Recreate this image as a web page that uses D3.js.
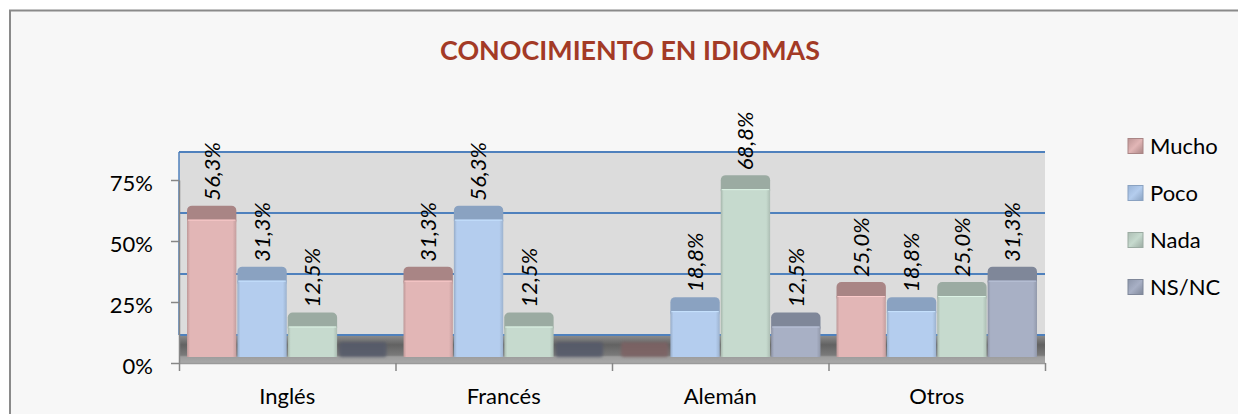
<!DOCTYPE html>
<html>
<head>
<meta charset="utf-8">
<script src="https://cdn.jsdelivr.net/npm/d3@7"></script>
<style>
    html, body { margin: 0; padding: 0; background: #ffffff; }
    svg { display: block; font-family: Lato, "Open Sans", sans-serif; }
</style>
</head>
<body>
<div id="chart"></div>
<script>
// data
let categories = ['Inglés', 'Francés', 'Alemán', 'Otros'];
let series = ['Mucho', 'Poco', 'Nada', 'NS/NC'];
let mucho = [56.3, 31.3, 0, 25.0];
let poco = [31.3, 56.3, 18.8, 18.8];
let nada = [12.5, 12.5, 68.8, 25.0];
let nsnc = [0, 0, 12.5, 31.3];
let yTicks = [0, 25, 50, 75];
let title = 'CONOCIMIENTO EN IDIOMAS';

// look
let frontColors = ['#e2b6b6', '#b4cdee', '#c6dace', '#a8b0c5'];
let capColors = ['#a98585', '#8aa2c1', '#9baba2', '#7f8799'];
let zeroColors = ['#7e6264', '#5a6070', '#66706a', '#555a6b'];

let width = 1238;
let height = 414;
let plot = { left: 179, right: 1045, top: 180, bottom: 363 };
let wallShift = 28;   // back wall drawn higher (3d depth)
let barShift = 6;     // bars sit a bit behind the front edge
let capHeight = 14;

let svg, xScale, xSub, xEdge, yScale;

function init() {
    svg = d3.select('#chart')
        .append('svg')
        .attr('width', width)
        .attr('height', height);

    // chart area + border
    svg.append('rect')
        .attr('x', 10).attr('y', 10.5)
        .attr('width', width + 20).attr('height', height + 20)
        .attr('fill', '#f7f7f7')
        .attr('stroke', '#8a8a8a')
        .attr('stroke-width', 2);

    xScale = d3.scaleBand()
        .domain(categories)
        .range([plot.left, plot.right])
        .padding(0);

    xSub = d3.scaleBand()
        .domain(series)
        .range([8, xScale.bandwidth() - 8])
        .paddingInner(0.02);

    xEdge = d3.scaleLinear()
        .domain([0, categories.length])
        .range([plot.left, plot.right]);

    yScale = d3.scaleLinear()
        .domain([0, 75])
        .range([plot.bottom, plot.top]);

    let defs = svg.append('defs');

    let floorGrad = defs.append('linearGradient')
        .attr('id', 'floorGrad')
        .attr('x1', 0).attr('y1', 0).attr('x2', 0).attr('y2', 1);
    [['0%', '#8e8e8e'], ['35%', '#626262'], ['72%', '#7a7a7a'], ['78%', '#9d9d9d'], ['100%', '#a9a9a9']]
        .forEach(([o, c]) => floorGrad.append('stop').attr('offset', o).attr('stop-color', c));

    defs.append('filter')
        .attr('id', 'soft')
        .attr('x', '-10%').attr('y', '-50%').attr('width', '120%').attr('height', '200%')
        .append('feGaussianBlur')
        .attr('stdDeviation', 1.6);

    series.forEach((s, i) => {
        let g = defs.append('linearGradient')
            .attr('id', 'front' + i)
            .attr('x1', 0).attr('y1', 0).attr('x2', 1).attr('y2', 0);
        let base = d3.color(frontColors[i]);
        [['0%', base.darker(0.5)], ['6%', base], ['92%', base], ['100%', base.darker(0.4)]]
            .forEach(([o, c]) => g.append('stop').attr('offset', o).attr('stop-color', c));

        let lg = defs.append('linearGradient')
            .attr('id', 'legend' + i)
            .attr('x1', 0).attr('y1', 0).attr('x2', 1).attr('y2', 1);
        [['0%', d3.color(capColors[i]).brighter(0.3)], ['50%', base], ['100%', d3.color(capColors[i])]]
            .forEach(([o, c]) => lg.append('stop').attr('offset', o).attr('stop-color', c));
    });
}

function drawWalls() {
    let wallTop = yScale(75) - wallShift;
    let wallBottom = yScale(0) - wallShift;

    svg.append('rect')
        .attr('x', plot.left)
        .attr('y', wallTop)
        .attr('width', plot.right - plot.left)
        .attr('height', wallBottom - wallTop)
        .attr('fill', '#dcdcdc');

    // floor
    svg.append('rect')
        .attr('x', plot.left)
        .attr('y', wallBottom)
        .attr('width', plot.right - plot.left)
        .attr('height', yScale(0) - wallBottom)
        .attr('fill', 'url(#floorGrad)');

    // wall gridlines
    svg.append('g')
        .selectAll('line')
        .data(yTicks)
        .join('line')
        .attr('x1', plot.left)
        .attr('x2', plot.right)
        .attr('y1', d => yScale(d) - wallShift)
        .attr('y2', d => yScale(d) - wallShift)
        .attr('stroke', '#4f81bd')
        .attr('stroke-width', 2);

    svg.append('line')
        .attr('x1', plot.left).attr('x2', plot.left)
        .attr('y1', wallTop).attr('y2', wallBottom)
        .attr('stroke', '#4f81bd')
        .attr('stroke-width', 1.5);
}

function drawAxes() {
    let yAxis = d3.axisLeft(yScale)
        .tickValues(yTicks)
        .tickFormat(d => d + '%')
        .tickSize(8)
        .tickSizeOuter(0)
        .tickPadding(18);

    let gy = svg.append('g')
        .attr('transform', `translate(${plot.left}, 0)`)
        .call(yAxis);
    gy.select('.domain').attr('stroke', '#868686').attr('stroke-width', 1.5);
    gy.selectAll('.tick line').attr('stroke', '#868686').attr('stroke-width', 1.5);
    gy.selectAll('.tick text')
        .attr('dy', '0.48em')
        .attr('fill', '#000')
        .style('font-size', '22px')
        .style('font-family', 'Lato, sans-serif');

    let xAxis = d3.axisBottom(xEdge)
        .ticks(categories.length)
        .tickFormat('')
        .tickSize(8)
        .tickSizeOuter(0);

    let gx = svg.append('g')
        .attr('transform', `translate(0, ${plot.bottom})`)
        .call(xAxis);
    gx.select('.domain').attr('stroke', '#9a9a9a').attr('stroke-width', 1.5);
    gx.selectAll('.tick line').attr('stroke', '#868686').attr('stroke-width', 1.5);

    svg.append('g')
        .selectAll('text')
        .data(categories)
        .join('text')
        .attr('x', d => xScale(d) + xScale.bandwidth() / 2)
        .attr('y', 404)
        .attr('text-anchor', 'middle')
        .style('font-size', '22px')
        .text(d => d);
}

function drawBars() {
    let table = [mucho, poco, nada, nsnc];
    let rows = [];
    categories.forEach((c, ci) => {
        series.forEach((s, si) => {
            rows.push({ category: c, series: s, si, value: table[si][ci] });
        });
    });

    let base = yScale(0) - barShift;
    let groups = svg.append('g')
        .selectAll('g')
        .data(rows)
        .join('g')
        .attr('transform', d => `translate(${xScale(d.category) + xSub(d.series)}, 0)`);

    let w = xSub.bandwidth();

    // empty bars: flat shadow on the floor
    groups.filter(d => d.value === 0)
        .append('rect')
        .attr('x', 1)
        .attr('y', base - 15)
        .attr('width', w - 2)
        .attr('height', 15)
        .attr('rx', 3)
        .attr('fill', d => zeroColors[d.si])
        .attr('opacity', 0.85)
        .attr('filter', 'url(#soft)');

    let full = groups.filter(d => d.value > 0);

    full.append('rect')
        .attr('x', 0)
        .attr('y', d => yScale(d.value) - barShift - capHeight)
        .attr('width', w)
        .attr('height', capHeight + 6)
        .attr('rx', 5)
        .attr('fill', d => capColors[d.si]);

    full.append('rect')
        .attr('x', 0)
        .attr('y', d => yScale(d.value) - barShift)
        .attr('width', w)
        .attr('height', d => base - (yScale(d.value) - barShift))
        .attr('fill', d => `url(#front${d.si})`);

    full.append('line')
        .attr('x1', 1).attr('x2', w - 1)
        .attr('y1', d => yScale(d.value) - barShift + 0.5)
        .attr('y2', d => yScale(d.value) - barShift + 0.5)
        .attr('stroke', d => d3.color(frontColors[d.si]).brighter(0.3))
        .attr('stroke-width', 1);

    full.append('text')
        .attr('transform', d => `translate(${w / 2}, ${yScale(d.value) - barShift - capHeight - 5}) rotate(-90)`)
        .attr('dy', '0.36em')
        .style('font-size', '22px')
        .style('font-style', 'italic')
        .text(d => d.value.toFixed(1).replace('.', ',') + '%');
}

function drawLegend() {
    let ly = d3.scaleLinear()
        .domain([0, series.length - 1])
        .range([146, 287]);

    let items = svg.append('g')
        .selectAll('g')
        .data(series)
        .join('g')
        .attr('transform', (d, i) => `translate(1128, ${ly(i)})`);

    items.append('rect')
        .attr('x', 0).attr('y', -7.5)
        .attr('width', 15).attr('height', 15)
        .attr('fill', (d, i) => `url(#legend${i})`)
        .attr('stroke', (d, i) => capColors[i])
        .attr('stroke-width', 1);

    items.append('text')
        .attr('x', 22)
        .attr('y', 7.5)
        .style('font-size', '22px')
        .text(d => d);
}

function drawTitle() {
    let t = svg.append('text')
        .attr('x', 630)
        .attr('y', 60)
        .attr('text-anchor', 'middle')
        .attr('fill', '#a33a26')
        .style('font-weight', 'bold')
        .style('font-size', '27px')
        .text(title);
    // fit title to the reference width
    let len = t.node().getComputedTextLength();
    if (len > 0) t.style('font-size', (27 * 380 / len) + 'px');
}

init();
drawWalls();
drawBars();
drawAxes();
drawLegend();
drawTitle();
</script>
</body>
</html>
